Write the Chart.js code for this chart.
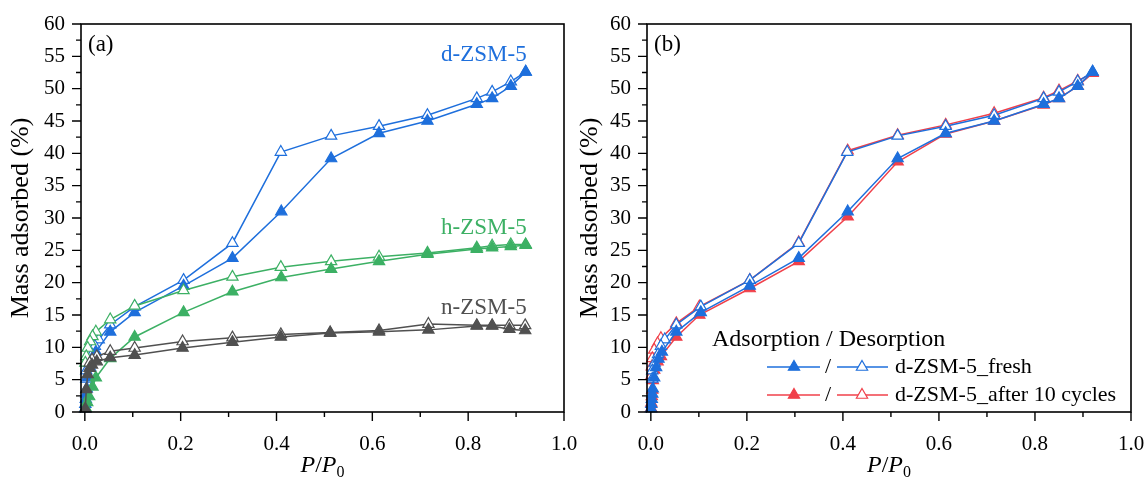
<!DOCTYPE html>
<html><head><meta charset="utf-8">
<script src="https://cdn.jsdelivr.net/npm/chart.js@4.4.0/dist/chart.umd.min.js"></script>
<style>
html,body{margin:0;padding:0;background:#fff;}
#wrap{position:relative;width:1148px;height:479px;overflow:hidden;}
canvas{position:absolute;top:0;}
</style></head><body>
<div id="wrap">
<canvas id="c1" width="600" height="479" style="left:0;width:600px;height:479px"></canvas>
<canvas id="c2" width="574" height="479" style="left:574px;width:574px;height:479px"></canvas>
</div>
<script>
// ---------- data ----------
const xTicks = [0, 0.2, 0.4, 0.6, 0.8, 1.0];
const xTickLabels = ['0.0', '0.2', '0.4', '0.6', '0.8', '1.0'];
const yTicks = [0, 5, 10, 15, 20, 25, 30, 35, 40, 45, 50, 55, 60];

// d-ZSM-5 (fresh)
const dAdsP = [0.0005, 0.001, 0.002, 0.003, 0.004, 0.007, 0.011, 0.016, 0.023, 0.053, 0.104, 0.206, 0.308, 0.41, 0.514, 0.614, 0.715, 0.818, 0.85, 0.889, 0.92];
const dAds  = [0.5, 1.2, 2.0, 2.8, 3.6, 5.3, 6.9, 8.2, 9.3, 12.4, 15.4, 19.5, 23.8, 31.0, 39.2, 43.1, 45.0, 47.6, 48.5, 50.4, 52.6];
const dDesP = [0.92, 0.889, 0.85, 0.818, 0.715, 0.614, 0.514, 0.409, 0.308, 0.206, 0.104, 0.053, 0.029, 0.021, 0.015, 0.008, 0.003, 0.003];
const dDes  = [52.6, 51.1, 49.5, 48.5, 45.9, 44.2, 42.7, 40.2, 26.1, 20.4, 16.3, 13.5, 11.2, 10.2, 8.9, 7.6, 6.4, 5.1];

// h-ZSM-5
const hAdsP = [0.002, 0.005, 0.009, 0.016, 0.023, 0.053, 0.104, 0.206, 0.308, 0.41, 0.514, 0.614, 0.715, 0.818, 0.85, 0.889, 0.92];
const hAds  = [0.6, 1.5, 2.4, 3.9, 5.3, 8.3, 11.6, 15.4, 18.6, 20.8, 22.1, 23.3, 24.4, 25.2, 25.4, 25.6, 25.8];
const hDesP = [0.92, 0.889, 0.85, 0.818, 0.715, 0.614, 0.514, 0.409, 0.308, 0.206, 0.104, 0.053, 0.023, 0.016, 0.011, 0.006, 0.003, 0.001];
const hDes  = [25.9, 25.9, 25.7, 25.4, 24.6, 24.0, 23.3, 22.4, 20.9, 18.8, 16.4, 14.3, 12.4, 11.7, 10.9, 9.9, 8.6, 7.6];

// n-ZSM-5
const nAdsP = [0.001, 0.003, 0.006, 0.01, 0.015, 0.025, 0.053, 0.104, 0.204, 0.308, 0.409, 0.512, 0.614, 0.717, 0.818, 0.85, 0.886, 0.919];
const nAds  = [0.5, 3.5, 5.8, 6.8, 7.3, 7.8, 8.4, 8.8, 9.9, 10.8, 11.6, 12.2, 12.4, 12.7, 13.3, 13.3, 12.8, 12.6];
const nDesP = [0.919, 0.886, 0.85, 0.818, 0.717, 0.614, 0.512, 0.409, 0.308, 0.204, 0.104, 0.053, 0.025, 0.015, 0.01];
const nDes  = [13.4, 13.4, 13.4, 13.4, 13.6, 12.6, 12.3, 12.0, 11.5, 10.9, 9.9, 9.4, 8.6, 8.1, 7.6];

// d-ZSM-5 after 10 cycles
const rAdsP = [0.0005, 0.001, 0.002, 0.003, 0.004, 0.007, 0.014, 0.021, 0.053, 0.101, 0.206, 0.308, 0.41, 0.514, 0.614, 0.715, 0.818, 0.85, 0.889, 0.92];
const rAds  = [0.6, 1.4, 2.4, 3.4, 4.9, 6.5, 7.8, 8.6, 11.6, 15.0, 19.1, 23.3, 30.2, 38.7, 43.0, 45.0, 47.5, 48.5, 50.4, 52.4];
const rDesP = [0.92, 0.889, 0.85, 0.818, 0.715, 0.614, 0.514, 0.41, 0.308, 0.206, 0.101, 0.053, 0.021, 0.014, 0.007, 0.003, 0.002, 0.002];
const rDes  = [52.4, 51.2, 49.7, 48.6, 46.2, 44.4, 42.8, 40.4, 26.2, 20.4, 16.3, 13.7, 11.4, 10.6, 9.6, 8.3, 7.0, 5.7];

// ---------- styles ----------
const BLUE = '#1e6fdc', GREEN = '#3cb064', GRAY = '#505050', RED = '#f0404a';
const FONT = "'Liberation Serif', 'Times New Roman', serif";

const pts = (xs, ys) => xs.map((x, i) => ({x: x, y: ys[i]}));
function ds(xs, ys, color, filled, label) {
  return {
    label: label,
    data: pts(xs, ys),
    showLine: true,
    borderColor: color,
    borderWidth: 1.5,
    pointStyle: 'triangle',
    pointRadius: 6.5,
    pointBorderWidth: 1.2,
    pointBorderColor: color,
    pointBackgroundColor: filled ? color : '#ffffff',
    backgroundColor: filled ? color : '#ffffff',
    tension: 0,
    clip: false
  };
}

function frameFor(opt) {
  return {
    id: 'frame',
    afterDraw(chart) {
      const {ctx, chartArea: a, scales: {x, y}} = chart;
      ctx.save();
      ctx.strokeStyle = '#000';
      ctx.lineWidth = 1.6;
      ctx.strokeRect(a.left, a.top, a.right - a.left, a.bottom - a.top);
      ctx.beginPath();
      ctx.lineWidth = 1.4;
      for (let i = 0; i <= 10; i++) {
        const v = i / 10;
        const px = x.getPixelForValue(v);
        const len = (i % 2 === 0) ? 9 : 5;
        ctx.moveTo(px, a.bottom); ctx.lineTo(px, a.bottom + len);
      }
      for (let i = 0; i <= 24; i++) {
        const v = i * 2.5;
        const py = y.getPixelForValue(v);
        const len = (i % 2 === 0) ? 9 : 5;
        ctx.moveTo(a.left, py); ctx.lineTo(a.left - len, py);
      }
      ctx.stroke();
      // x title P/P0
      ctx.fillStyle = '#000';
      ctx.textBaseline = 'alphabetic';
      const cx = (a.left + a.right) / 2;
      const base = 472;
      ctx.font = 'italic 24px ' + FONT;
      const wP = ctx.measureText('P').width;
      ctx.font = '24px ' + FONT;
      const wS = ctx.measureText('/').width;
      ctx.font = '16px ' + FONT;
      const w0 = ctx.measureText('0').width;
      let sx = cx - (2 * wP + wS + w0) / 2;
      ctx.textAlign = 'left';
      ctx.font = 'italic 24px ' + FONT; ctx.fillText('P', sx, base); sx += wP;
      ctx.font = '24px ' + FONT; ctx.fillText('/', sx, base); sx += wS;
      ctx.font = 'italic 24px ' + FONT; ctx.fillText('P', sx, base); sx += wP;
      ctx.font = '16px ' + FONT; ctx.fillText('0', sx, base + 5);
      // y title
      ctx.save();
      ctx.translate(opt.yTitleX, (a.top + a.bottom) / 2);
      ctx.rotate(-Math.PI / 2);
      ctx.textAlign = 'center';
      ctx.textBaseline = 'middle';
      ctx.font = '26px ' + FONT;
      ctx.fillText('Mass adsorbed (%)', 0, 0);
      ctx.restore();
      // panel letter
      ctx.textAlign = 'left';
      ctx.textBaseline = 'middle';
      ctx.font = '23px ' + FONT;
      ctx.fillText(opt.letter, a.left + 7, 45);
      if (opt.extra) opt.extra(chart);
      ctx.restore();
    }
  };
}

function baseOptions(yW, padRight) {
  return {
    responsive: false,
    animation: false,
    devicePixelRatio: 1,
    layout: {padding: {top: 24, right: padRight, left: 0, bottom: 0}},
    plugins: {legend: {display: false}, tooltip: {enabled: false}},
    scales: {
      x: {
        type: 'linear', min: -0.008, max: 1.0,
        grid: {display: false}, border: {display: false},
        afterBuildTicks: s => { s.ticks = xTicks.map(v => ({value: v})); },
        afterFit: s => { s.height = 67; s.paddingLeft = 0; s.paddingRight = 0; },
        ticks: {
          padding: 12, color: '#000', font: {family: FONT, size: 21},
          callback: (v) => { const i = xTicks.findIndex(t => Math.abs(t - v) < 1e-9); return i >= 0 ? xTickLabels[i] : ''; },
          maxRotation: 0, autoSkip: false
        }
      },
      y: {
        type: 'linear', min: 0, max: 60,
        grid: {display: false}, border: {display: false},
        afterBuildTicks: s => { s.ticks = yTicks.map(v => ({value: v})); },
        afterFit: s => { s.width = yW; s.paddingTop = 0; s.paddingBottom = 0; },
        ticks: {padding: 8, color: '#000', font: {family: FONT, size: 21}, autoSkip: false}
      }
    }
  };
}

// ---------- panel (a) ----------
const optA = baseOptions(81, 36);
new Chart(document.getElementById('c1'), {
  type: 'scatter',
  data: {datasets: [
    ds(nAdsP, nAds, GRAY, true, 'n ads'),
    ds(nDesP, nDes, GRAY, false, 'n des'),
    ds(hAdsP, hAds, GREEN, true, 'h ads'),
    ds(hDesP, hDes, GREEN, false, 'h des'),
    ds(dAdsP, dAds, BLUE, true, 'd ads'),
    ds(dDesP, dDes, BLUE, false, 'd des')
  ]},
  options: optA,
  plugins: [frameFor({letter: '(a)', yTitleX: 21, extra: (chart) => {
    const {ctx, scales: {x, y}} = chart;
    ctx.textAlign = 'right';
    ctx.textBaseline = 'middle';
    ctx.font = '23px ' + FONT;
    const rx = x.getPixelForValue(0.92) + 1;
    ctx.fillStyle = BLUE; ctx.fillText('d-ZSM-5', rx, y.getPixelForValue(55.2));
    ctx.fillStyle = GREEN; ctx.fillText('h-ZSM-5', rx, y.getPixelForValue(28.5));
    ctx.fillStyle = GRAY; ctx.fillText('n-ZSM-5', rx, y.getPixelForValue(16.1));
  }})]
});

// ---------- panel (b) ----------
function legendRow(ctx, yy, color, label) {
  ctx.save();
  ctx.strokeStyle = color; ctx.lineWidth = 1.5;
  ctx.beginPath(); ctx.moveTo(767 - 574, yy); ctx.lineTo(820 - 574, yy); ctx.stroke();
  ctx.beginPath(); ctx.moveTo(837 - 574, yy); ctx.lineTo(888 - 574, yy); ctx.stroke();
  const tri = (cx, cy, fill) => {
    const r = 6.5;
    ctx.beginPath();
    ctx.moveTo(cx, cy - r);
    ctx.lineTo(cx + r * Math.sin(2 * Math.PI / 3), cy - r * Math.cos(2 * Math.PI / 3));
    ctx.lineTo(cx + r * Math.sin(4 * Math.PI / 3), cy - r * Math.cos(4 * Math.PI / 3));
    ctx.closePath();
    ctx.fillStyle = fill; ctx.fill();
    ctx.lineWidth = 1.2; ctx.strokeStyle = color; ctx.stroke();
  };
  tri(794 - 574, yy, color);
  tri(862 - 574, yy, '#fff');
  ctx.fillStyle = '#000';
  ctx.font = '22px ' + FONT;
  ctx.textAlign = 'center'; ctx.textBaseline = 'middle';
  ctx.fillText('/', 828 - 574, yy);
  ctx.textAlign = 'left';
  ctx.fillText(label, 895 - 574, yy);
  ctx.restore();
}
const optB = baseOptions(73, 17);
new Chart(document.getElementById('c2'), {
  type: 'scatter',
  data: {datasets: [
    ds(dAdsP, dAds, BLUE, true, 'fresh ads'),
    ds(dDesP, dDes, BLUE, false, 'fresh des'),
    ds(rAdsP, rAds, RED, true, 'cyc ads'),
    ds(rDesP, rDes, RED, false, 'cyc des')
  ]},
  options: optB,
  plugins: [frameFor({letter: '(b)', yTitleX: 16, extra: (chart) => {
    const {ctx} = chart;
    ctx.fillStyle = '#000';
    ctx.textAlign = 'left'; ctx.textBaseline = 'middle';
    ctx.font = '24px ' + FONT;
    ctx.fillText('Adsorption / Desorption', 712 - 574, 340);
    legendRow(ctx, 367, BLUE, 'd-ZSM-5_fresh');
    legendRow(ctx, 395, RED, 'd-ZSM-5_after 10 cycles');
  }})]
});
</script>
</body></html>
